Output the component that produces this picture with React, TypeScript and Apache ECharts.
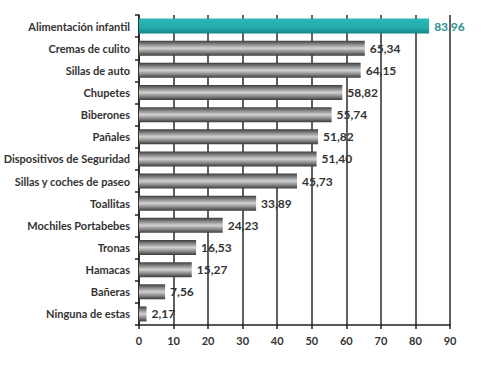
import React, { useEffect, useRef } from "react";
import * as echarts from "echarts";

const categories = [
  "Alimentación infantil",
  "Cremas de culito",
  "Sillas de auto",
  "Chupetes",
  "Biberones",
  "Pañales",
  "Dispositivos de Seguridad",
  "Sillas y coches de paseo",
  "Toallitas",
  "Mochiles Portabebes",
  "Tronas",
  "Hamacas",
  "Bañeras",
  "Ninguna de estas",
];
const values = [83.96, 65.34, 64.15, 58.82, 55.74, 51.82, 51.4, 45.73, 33.89, 24.23, 16.53, 15.27, 7.56, 2.17];
const highlightIndex = 0;

export default function App() {
  const ref = useRef<HTMLDivElement>(null);
  useEffect(() => {
    const chart = echarts.init(ref.current!, null, { renderer: "svg" });
    const greyGrad = new echarts.graphic.LinearGradient(0, 0, 0, 1, [
      { offset: 0, color: "#3c3c3c" },
      { offset: 0.25, color: "#8a8a8a" },
      { offset: 0.5, color: "#d2d2d2" },
      { offset: 0.75, color: "#8a8a8a" },
      { offset: 1, color: "#3a3a3a" },
    ]);
    const tealGrad = new echarts.graphic.LinearGradient(0, 0, 0, 1, [
      { offset: 0, color: "#2bb8b8" },
      { offset: 0.6, color: "#23abab" },
      { offset: 1, color: "#168585" },
    ]);
    const font = "Lato, 'Open Sans', sans-serif";
    chart.setOption({
      animation: false,
      grid: { left: 139, right: 50, top: 15, bottom: 42 },
      xAxis: {
        type: "value",
        min: 0,
        max: 90,
        interval: 10,
        axisLine: { show: true, lineStyle: { color: "#222", width: 1.5 } },
        axisTick: { show: true, length: 4, lineStyle: { color: "#222", width: 1.5 } },
        splitLine: { show: true, lineStyle: { color: "#2a2a2a", width: 1.5 } },
        axisLabel: { color: "#333", fontFamily: font, fontWeight: "bold", fontSize: 11, margin: 10 },
      },
      yAxis: {
        type: "category",
        data: categories,
        inverse: true,
        axisLine: { show: true, lineStyle: { color: "#222", width: 1.5 } },
        axisTick: { show: true, length: 4, lineStyle: { color: "#222", width: 1.5 } },
        axisLabel: { color: "#333", fontFamily: font, fontWeight: "bold", fontSize: 11, margin: 9 },
      },
      series: [
        {
          type: "bar",
          barWidth: 15,
          data: values.map((v, i) => ({
            value: v,
            itemStyle: { color: i === highlightIndex ? tealGrad : greyGrad },
            label: i === highlightIndex ? { color: "#2a8f8f" } : undefined,
          })),
          label: {
            show: true,
            position: "right",
            distance: 5,
            color: "#333",
            fontFamily: font,
            fontWeight: "bold",
            fontSize: 12,
            formatter: (p: any) => p.value.toFixed(2).replace(".", ","),
          },
        },
      ],
    });
    return () => chart.dispose();
  }, []);
  return <div ref={ref} style={{ width: 500, height: 367, position: "absolute", left: 0, top: 0, background: "#fff" }} />;
}
